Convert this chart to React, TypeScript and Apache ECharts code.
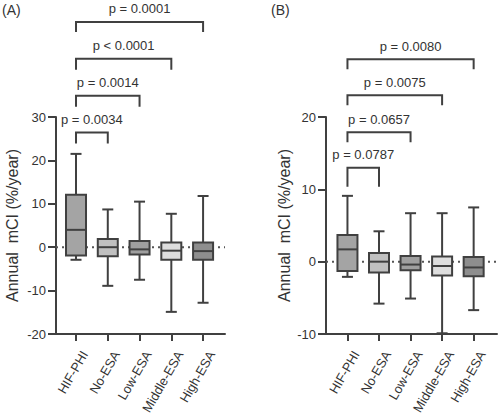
import React, { useEffect, useRef } from "react";
import * as echarts from "echarts";

// ---- data ----
const categories = ["HIF-PHI", "No-ESA", "Low-ESA", "Middle-ESA", "High-ESA"];
// [min, Q1, median, Q3, max]
const boxesA = [
  [-2.9, -1.9, 4.0, 12.1, 21.5],
  [-8.9, -2.1, 0.0, 1.9, 8.7],
  [-7.5, -1.7, -0.5, 1.4, 10.5],
  [-14.9, -2.9, -0.8, 1.1, 7.7],
  [-12.8, -2.9, -0.9, 1.1, 11.8],
];
const boxesB = [
  [-2.1, -1.3, 1.7, 3.7, 9.1],
  [-5.8, -1.5, 0.0, 1.2, 4.2],
  [-5.1, -1.2, -0.4, 0.8, 6.7],
  [-9.9, -1.9, -0.6, 0.7, 6.7],
  [-6.7, -2.0, -0.8, 0.65, 7.5],
];
const comparisons = [
  [0, 1],
  [0, 2],
  [0, 3],
  [0, 4],
];
const pLabelsA = ["p = 0.0034", "p = 0.0014", "p < 0.0001", "p = 0.0001"];
const pLabelsB = ["p = 0.0787", "p = 0.0657", "p = 0.0075", "p = 0.0080"];
const yTicksA = { min: -20, max: 30, interval: 10 };
const yTicksB = { min: -10, max: 20, interval: 10 };
const yName = "Annual  mCI (%/year)";

// ---- layout / style ----
const FONT = "'Liberation Sans', Arial, sans-serif";
const INK = "#404040";
const TXT = "#333333";
const fills = ["#a4a4a4", "#c0c0c0", "#9f9f9f", "#dedede", "#8e8e8e"];
const bracketTopsA = [26.4, 34.9, 43.4, 51.9];
const bracketLegsA = [11, 11, 11, 10];
const bracketTopsB = [13.0, 17.9, 23.0, 28.0];
const bracketLegsB = [19, 10, 10, 10];

function panel(
  idx: number,
  boxes: number[][],
  pLabels: string[],
  tops: number[],
  legs: number[],
  xMin: number,
  xMax: number
) {
  const boxSeries = {
    type: "custom",
    xAxisIndex: idx,
    yAxisIndex: idx,
    z: 3,
    clip: false,
    encode: { x: 0, y: [1, 2, 3, 4, 5] },
    data: boxes.map((b, i) => [i, ...b]),
    renderItem: (params: any, api: any) => {
      const x = api.value(0);
      const v = [1, 2, 3, 4, 5].map((d) => api.value(d));
      const cx = api.coord([x, 0])[0];
      const py = (val: number) => api.coord([x, val])[1];
      const bw = 20;
      const cw = 11;
      const ls = { stroke: INK, lineWidth: 2 };
      return {
        type: "group",
        children: [
          { type: "line", shape: { x1: cx, y1: py(v[0]), x2: cx, y2: py(v[4]) }, style: ls },
          { type: "line", shape: { x1: cx - cw / 2, y1: py(v[0]), x2: cx + cw / 2, y2: py(v[0]) }, style: ls },
          { type: "line", shape: { x1: cx - cw / 2, y1: py(v[4]), x2: cx + cw / 2, y2: py(v[4]) }, style: ls },
          {
            type: "rect",
            shape: { x: cx - bw / 2, y: py(v[3]), width: bw, height: py(v[1]) - py(v[3]) },
            style: { fill: fills[params.dataIndex], stroke: INK, lineWidth: 2 },
          },
          { type: "line", shape: { x1: cx - bw / 2, y1: py(v[2]), x2: cx + bw / 2, y2: py(v[2]) }, style: ls },
        ],
      };
    },
  };
  const bracketSeries = {
    type: "custom",
    xAxisIndex: idx,
    yAxisIndex: idx,
    z: 3,
    clip: false,
    encode: { x: [0, 1], y: 2 },
    data: comparisons.map((c, k) => [c[0], c[1], tops[k]]),
    renderItem: (params: any, api: any) => {
      const k = params.dataIndex;
      const x1 = api.coord([api.value(0), 0])[0];
      const x2 = api.coord([api.value(1), 0])[0];
      const top = api.coord([0, api.value(2)])[1];
      const leg = legs[k];
      return {
        type: "group",
        children: [
          {
            type: "polyline",
            shape: { points: [[x1, top + leg], [x1, top], [x2, top], [x2, top + leg]] },
            style: { stroke: INK, lineWidth: 2, fill: "none" },
          },
          {
            type: "text",
            style: {
              text: pLabels[k],
              x: (x1 + x2) / 2,
              y: top - 13,
              align: "center",
              verticalAlign: "middle",
              fontSize: 13,
              fontFamily: FONT,
              fill: TXT,
            },
          },
        ],
      };
    },
  };
  const zeroLine = {
    type: "line",
    xAxisIndex: idx,
    yAxisIndex: idx,
    z: 1,
    symbol: "none",
    silent: true,
    data: [
      [xMin, 0],
      [xMax, 0],
    ],
    lineStyle: { color: "#555", width: 2, type: [2, 4] },
  };
  return [zeroLine, boxSeries, bracketSeries];
}

function xAxis(idx: number, min: number, max: number) {
  const ticks = categories.map((_, i) => i);
  return {
    gridIndex: idx,
    type: "value",
    min,
    max,
    axisLine: { show: true, onZero: false, lineStyle: { color: INK, width: 2 } },
    splitLine: { show: false },
    axisTick: { show: true, customValues: ticks, length: 7, lineStyle: { color: INK, width: 2 } },
    axisLabel: {
      customValues: ticks,
      formatter: (v: number) => categories[Math.round(v)],
      rotate: 60,
      margin: 13,
      verticalAlign: "top",
      lineHeight: 20,
      fontSize: 13,
      fontFamily: FONT,
      color: TXT,
    },
  };
}

function yAxis(idx: number, t: { min: number; max: number; interval: number }, gap: number) {
  return {
    gridIndex: idx,
    type: "value",
    min: t.min,
    max: t.max,
    interval: t.interval,
    axisLine: { show: true, onZero: false, lineStyle: { color: INK, width: 2 } },
    axisTick: { show: true, length: 8, lineStyle: { color: INK, width: 2 } },
    splitLine: { show: false },
    axisLabel: { margin: 10, fontSize: 13, fontFamily: FONT, color: TXT },
    name: yName,
    nameLocation: "middle",
    nameGap: gap,
    nameTextStyle: { fontSize: 16, fontFamily: FONT, color: TXT },
  };
}

export default function App() {
  const ref = useRef<HTMLDivElement>(null);
  useEffect(() => {
    if (!ref.current) return;
    const chart = echarts.init(ref.current, null, { renderer: "svg" });
    const xA = [-0.63, 4.69];
    const xB = [-0.68, 4.74];
    chart.setOption({
      animation: false,
      backgroundColor: "#ffffff",
      textStyle: { fontFamily: FONT },
      grid: [
        { left: 56, top: 117, width: 169, height: 217, outerBoundsMode: "none", containLabel: false },
        { left: 326, top: 117, width: 171, height: 217, outerBoundsMode: "none", containLabel: false },
      ],
      xAxis: [xAxis(0, xA[0], xA[1]), xAxis(1, xB[0], xB[1])],
      yAxis: [yAxis(0, yTicksA, 36), yAxis(1, yTicksB, 34)],
      graphic: [
        { type: "text", left: 2, top: 3, style: { text: "(A)", fontSize: 14, fontFamily: FONT, fill: TXT } },
        { type: "text", left: 271, top: 3, style: { text: "(B)", fontSize: 14, fontFamily: FONT, fill: TXT } },
      ],
      series: [
        ...panel(0, boxesA, pLabelsA, bracketTopsA, bracketLegsA, xA[0], xA[1]),
        ...panel(1, boxesB, pLabelsB, bracketTopsB, bracketLegsB, xB[0], xB[1]),
      ],
    });
    return () => chart.dispose();
  }, []);
  return (
    <div
      ref={ref}
      style={{ position: "fixed", left: 0, top: 0, width: 500, height: 417, background: "#fff" }}
    />
  );
}
